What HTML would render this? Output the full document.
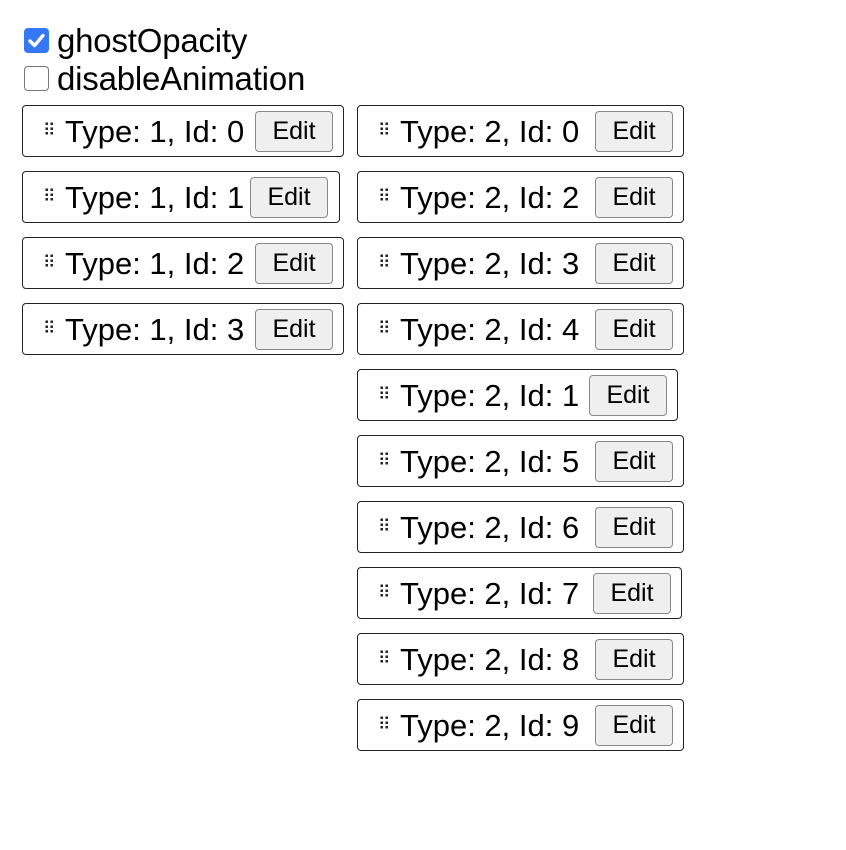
<!DOCTYPE html>
<html><head><style>
body{margin:0;width:846px;height:850px;background:#fff;font-family:"Liberation Sans",Arial,sans-serif;color:#000;position:relative;overflow:hidden}
.cb{position:absolute;left:24px;width:25px;height:25px;border-radius:4px;box-sizing:border-box}
.lbl{position:absolute;left:57px;font-size:33px;line-height:36px;letter-spacing:-0.2px}
.box{position:absolute;height:52px;box-sizing:border-box;border:1.5px solid #222;border-radius:4px}
.ic{position:absolute;left:20px;top:0;line-height:50px;font-size:17px;color:#222}
.tx{position:absolute;left:42px;top:0;line-height:52px;font-size:31px;white-space:nowrap}
.bt{position:absolute;top:5px;width:78px;height:41px;box-sizing:border-box;border:1.5px solid #888;border-radius:4px;background:#efefef;font-size:25px;line-height:38px;text-align:center}
</style></head><body>
<div class="cb" style="top:28px;background:#3478f6;"><svg width="25" height="25" viewBox="0 0 25 25"><path d="M6 13 L10.5 17.5 L19 7.5" stroke="#fff" stroke-width="3.4" fill="none" stroke-linecap="round" stroke-linejoin="round"/></svg></div>
<div class="lbl" style="top:23px">ghostOpacity</div>
<div class="cb" style="top:66px;border:1.5px solid #777;"></div>
<div class="lbl" style="top:61px">disableAnimation</div>

<div class="box" style="left:22px;top:105px;width:322px"><span class="ic">⠿</span><span class="tx">Type: 1, Id: 0</span><div class="bt" style="left:232px">Edit</div></div>
<div class="box" style="left:22px;top:171px;width:318px"><span class="ic">⠿</span><span class="tx">Type: 1, Id: 1</span><div class="bt" style="left:227px">Edit</div></div>
<div class="box" style="left:22px;top:237px;width:322px"><span class="ic">⠿</span><span class="tx">Type: 1, Id: 2</span><div class="bt" style="left:232px">Edit</div></div>
<div class="box" style="left:22px;top:303px;width:322px"><span class="ic">⠿</span><span class="tx">Type: 1, Id: 3</span><div class="bt" style="left:232px">Edit</div></div>

<div class="box" style="left:357px;top:105px;width:327px"><span class="ic">⠿</span><span class="tx">Type: 2, Id: 0</span><div class="bt" style="left:237px">Edit</div></div>
<div class="box" style="left:357px;top:171px;width:327px"><span class="ic">⠿</span><span class="tx">Type: 2, Id: 2</span><div class="bt" style="left:237px">Edit</div></div>
<div class="box" style="left:357px;top:237px;width:327px"><span class="ic">⠿</span><span class="tx">Type: 2, Id: 3</span><div class="bt" style="left:237px">Edit</div></div>
<div class="box" style="left:357px;top:303px;width:327px"><span class="ic">⠿</span><span class="tx">Type: 2, Id: 4</span><div class="bt" style="left:237px">Edit</div></div>
<div class="box" style="left:357px;top:369px;width:321px"><span class="ic">⠿</span><span class="tx">Type: 2, Id: 1</span><div class="bt" style="left:231px">Edit</div></div>
<div class="box" style="left:357px;top:435px;width:327px"><span class="ic">⠿</span><span class="tx">Type: 2, Id: 5</span><div class="bt" style="left:237px">Edit</div></div>
<div class="box" style="left:357px;top:501px;width:327px"><span class="ic">⠿</span><span class="tx">Type: 2, Id: 6</span><div class="bt" style="left:237px">Edit</div></div>
<div class="box" style="left:357px;top:567px;width:325px"><span class="ic">⠿</span><span class="tx">Type: 2, Id: 7</span><div class="bt" style="left:235px">Edit</div></div>
<div class="box" style="left:357px;top:633px;width:327px"><span class="ic">⠿</span><span class="tx">Type: 2, Id: 8</span><div class="bt" style="left:237px">Edit</div></div>
<div class="box" style="left:357px;top:699px;width:327px"><span class="ic">⠿</span><span class="tx">Type: 2, Id: 9</span><div class="bt" style="left:237px">Edit</div></div>
</body></html>
